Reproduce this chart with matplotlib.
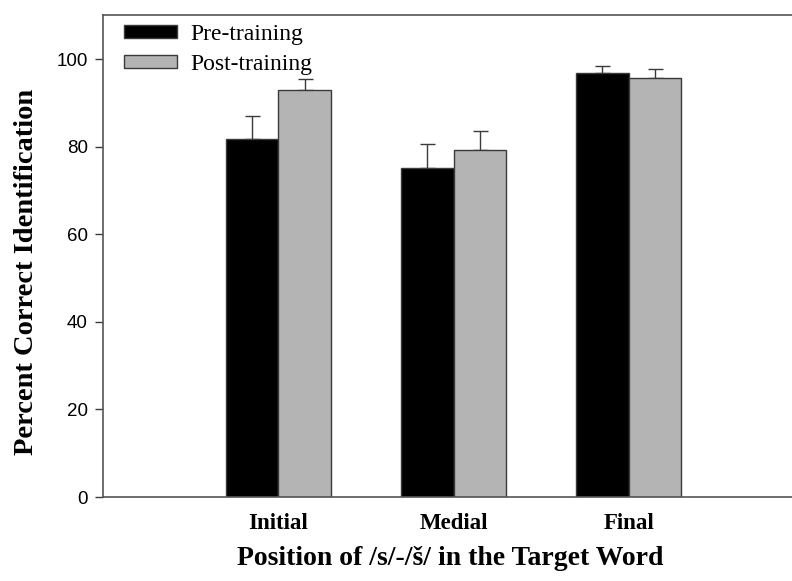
import numpy as np
import matplotlib.pyplot as plt

# values
positions = ["Initial", "Medial", "Final"]
pre_training = [81.8, 75.1, 96.9]
pre_err = [5.2, 5.6, 1.5]
post_training = [93.0, 79.3, 95.6]
post_err = [2.4, 4.3, 2.2]

fig = plt.figure(figsize=(7.92, 5.81), dpi=100)
# axes runs off the right edge on purpose, like the original
ax = fig.add_axes([103 / 792, 84 / 581, 701 / 792, 481.6 / 581])

x = np.arange(1, len(positions) + 1)
w = 0.3
edge = "#3a3a3a"

ax.bar(x - w / 2, pre_training, w, color="black", edgecolor=edge,
       linewidth=1, label="Pre-training", zorder=2)
ax.bar(x + w / 2, post_training, w, color="#b4b4b4", edgecolor=edge,
       linewidth=1, label="Post-training", zorder=2)

zeros = [0] * len(positions)
ax.errorbar(x - w / 2, pre_training, yerr=[zeros, pre_err], fmt="none",
            ecolor=edge, elinewidth=1, capsize=5.4, capthick=1, zorder=1)
ax.errorbar(x + w / 2, post_training, yerr=[zeros, post_err], fmt="none",
            ecolor=edge, elinewidth=1, capsize=5.4, capthick=1, zorder=1)

ax.set_xlim(0, 4)
ax.set_ylim(0, 110)
ax.set_yticks([0, 20, 40, 60, 80, 100])
ax.tick_params(axis="y", direction="out", length=6, width=1, color=edge,
               labelsize=13.5, pad=5)
for lab in ax.get_yticklabels():
    lab.set_family("Liberation Sans")

ax.set_xticks(x)
ax.set_xticklabels(positions, family="Liberation Serif", fontweight="bold",
                   fontsize=16.5)
ax.tick_params(axis="x", length=0, pad=11.5)

for s in ax.spines.values():
    s.set_color("#555555")
    s.set_linewidth(1.2)

ax.set_ylabel("Percent Correct Identification", family="Liberation Serif",
              fontweight="bold", fontsize=20.5)
ax.yaxis.set_label_coords(-0.092, 0.468)
ax.set_xlabel("Position of /s/-/š/ in the Target Word",
              family="Liberation Serif", fontweight="bold", fontsize=20)
# center xlabel on the visible part of the figure
ax.xaxis.set_label_coords((450 - 103) / 701, -0.1016)

leg = ax.legend(loc="upper left", bbox_to_anchor=(0.03, 0.9827),
                frameon=False, prop={"family": "Liberation Serif", "size": 17},
                handlelength=2.25, handleheight=0.49, labelspacing=0.40,
                handletextpad=0.55, borderaxespad=0, borderpad=0)

fig.savefig("out.png", dpi=100)
